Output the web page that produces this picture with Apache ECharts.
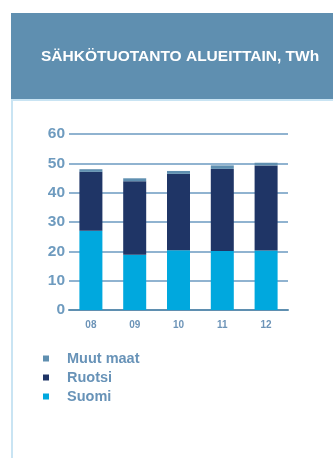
<!DOCTYPE html>
<html><head><meta charset="utf-8">
<script src="https://cdn.jsdelivr.net/npm/echarts@6/dist/echarts.min.js"></script>
<style>html,body{margin:0;padding:0;background:#fff}#c{width:333px;height:458px}</style>
</head><body><div id="c"></div>
<script>
const categories = ['08','09','10','11','12'];
const suomi = [27.0, 18.8, 20.4, 20.1, 20.3];
const ruotsi = [20.1, 25.1, 26.0, 28.0, 29.0];
const muut = [0.9, 1.0, 1.0, 1.2, 0.9];
const yTicks = [0, 10, 20, 30, 40, 50, 60];
const titleText = 'SÄHKÖTUOTANTO ALUEITTAIN, TWh';

const chart = echarts.init(document.getElementById('c'), null, {renderer:'canvas'});
const font = 'Liberation Sans, Arial, sans-serif';
chart.setOption({
  animation: false,
  graphic: [
    {type:'rect', shape:{x:11,y:13,width:322,height:86}, style:{fill:'#5f8fb0'}, z:0},
    {type:'rect', shape:{x:11,y:99,width:322,height:2}, style:{fill:'#c9e4f3'}, z:0},
    {type:'rect', shape:{x:11,y:99,width:2,height:359}, style:{fill:'#c9e4f3'}, z:0}
  ],
  title: {text: titleText, left: 36, top: 44,
    textStyle:{color:'#ffffff', fontFamily:font, fontWeight:'bold', fontSize:15.5}},
  grid: {left:69, right:45, top:134, height:176, containLabel:false},
  legend: {orient:'vertical', left:38, top:346, itemWidth:6, itemHeight:6, itemGap:4,
    icon:'rect',
    data:['Muut maat','Ruotsi','Suomi'],
    textStyle:{color:'#6893b8', fontFamily:font, fontWeight:'bold', fontSize:14.5, lineHeight:15, padding:[0,0,0,13]}},
  xAxis: {type:'category', data:categories,
    axisLine:{show:true, lineStyle:{color:'#5f8fb0', width:2}}, axisTick:{show:false},
    axisLabel:{color:'#6d94b8', fontFamily:font, fontWeight:'bold', fontSize:10, margin:10}},
  yAxis: {type:'value', min:yTicks[0], max:yTicks[yTicks.length-1], interval:10,
    axisLine:{show:false}, axisTick:{show:false},
    splitLine:{lineStyle:{color:'#6b9ac0', width:1.5}},
    axisLabel:{color:'#6e9bbf', fontFamily:font, fontWeight:'bold', fontSize:15.5, margin:4}},
  series: [
    {name:'Suomi', type:'bar', stack:'a', data:suomi, barWidth:23, itemStyle:{color:'#00a8de'}},
    {name:'Ruotsi', type:'bar', stack:'a', data:ruotsi, barWidth:23, itemStyle:{color:'#1f3566'}},
    {name:'Muut maat', type:'bar', stack:'a', data:muut, barWidth:23, itemStyle:{color:'#5f8fb0'}}
  ]
});
</script></body></html>
